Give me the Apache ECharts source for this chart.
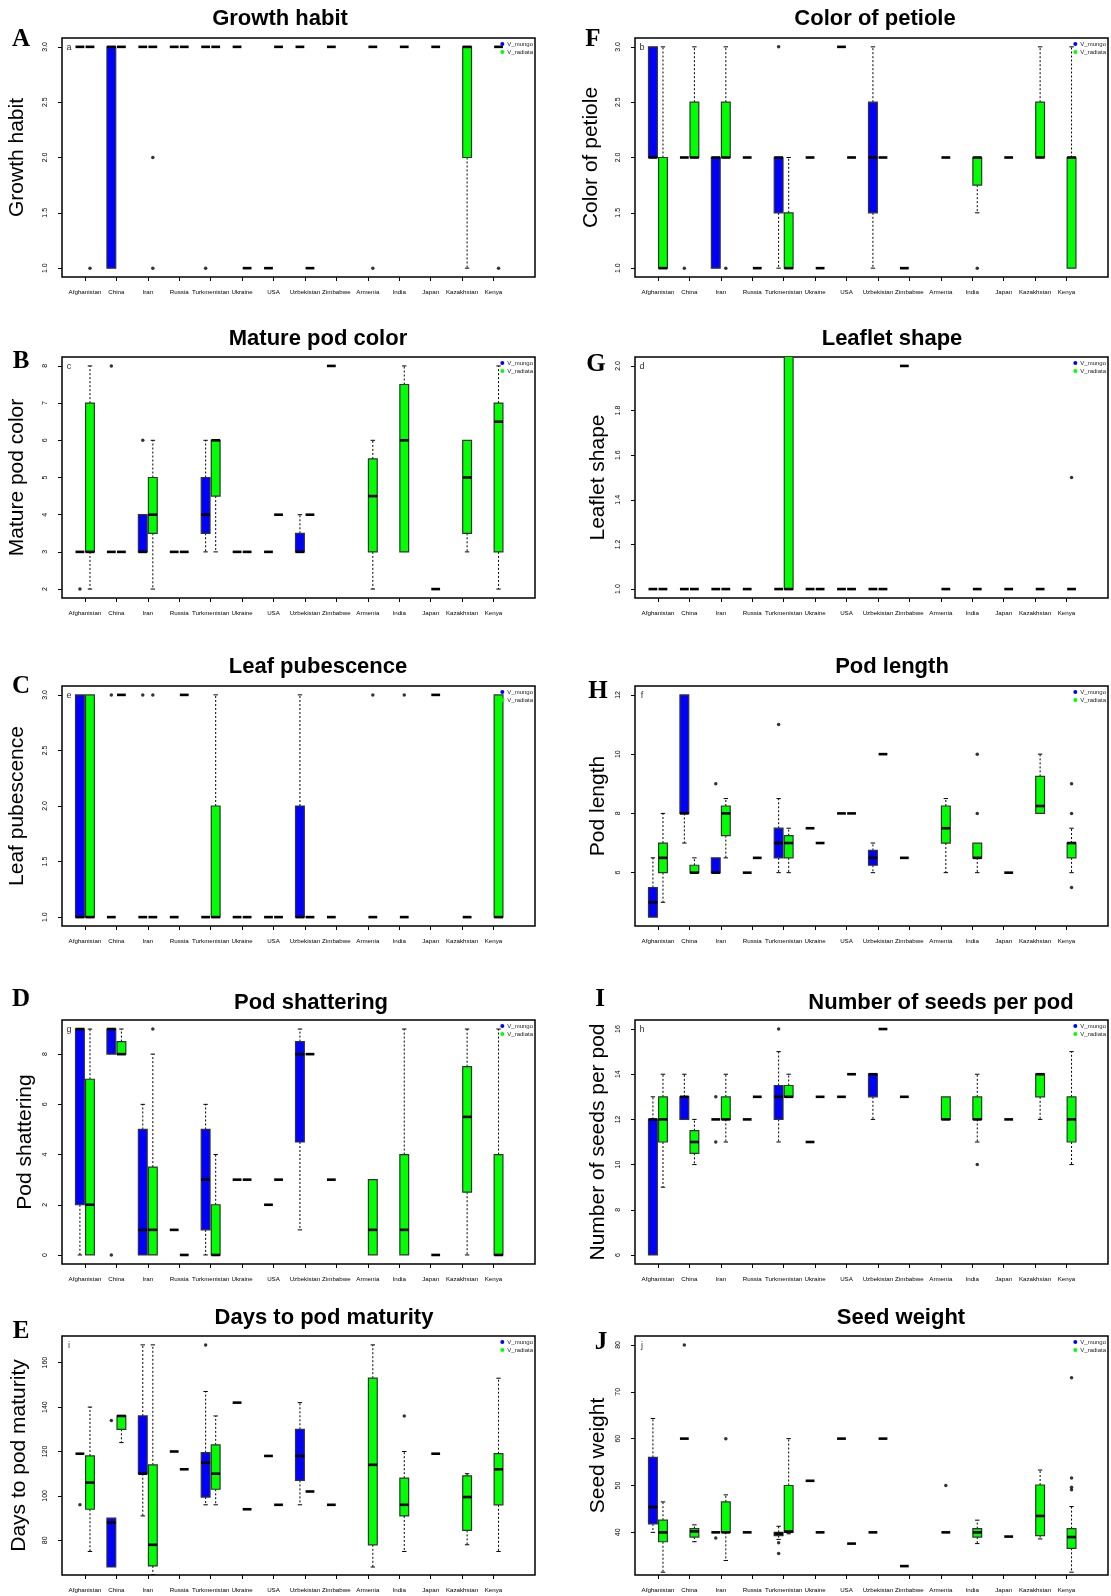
<!DOCTYPE html>
<html>
<head>
<meta charset="utf-8">
<title>Vigna trait boxplots</title>
<script src="https://cdn.jsdelivr.net/npm/echarts@6/dist/echarts.min.js"></script>
<style>
html, body { margin: 0; padding: 0; background: #fff; }
#chart { width: 1111px; height: 1596px; }
</style>
</head>
<body>
<div id="chart"></div>
<script>
// countries on every x axis
const countries = ['Afghanistan', 'China', 'Iran', 'Russia', 'Turkmenistan', 'Ukraine', 'USA',
  'Uzbekistan', 'Zimbabwe', 'Armenia', 'India', 'Japan', 'Kazakhstan', 'Kenya']
const species = ['V_mungo', 'V_radiata']
const speciesColors = ['#0000ff', '#00ff00']

// box stats: a number = all accessions had that value,
// an array = [low whisker, Q1, median, Q3, high whisker], null = no accessions
// outliers: [country index, species (0 mungo / 1 radiata), value]

// A - Growth habit
const growthMungo = [3, [1, 1, 3, 3, 3], 3, 3, 3, 3, 1, 3, 3, null, null, null, null, null]
const growthRadiata = [3, 3, 3, 3, 3, 1, 3, 1, null, 3, 3, 3, [1, 2, 3, 3, 3], 3]
const growthOutliers = [[0, 1, 1], [2, 1, 2], [2, 1, 1], [4, 0, 1], [9, 1, 1], [13, 1, 1]]
const growthTicks = [1, 1.5, 2, 2.5, 3]

// F - Color of petiole
const petioleMungo = [[2, 2, 2, 3, 3], 2, [1, 1, 2, 2, 2], 2, [1, 1.5, 2, 2, 2], 2, 3, [1, 1.5, 2, 2.5, 3], 1, null, null, null, null, null]
const petioleRadiata = [[1, 1, 1, 2, 3], [2, 2, 2, 2.5, 3], [2, 2, 2, 2.5, 3], 1, [1, 1, 1, 1.5, 2], 1, 2, 2, null, 2, [1.5, 1.75, 2, 2, 2], 2, [2, 2, 2, 2.5, 3], [1, 1, 2, 2, 3]]
const petioleOutliers = [[1, 0, 1], [2, 1, 1], [4, 0, 3], [10, 1, 1]]
const petioleTicks = [1, 1.5, 2, 2.5, 3]

// B - Mature pod color
const podColorMungo = [3, 3, [3, 3, 3, 4, 4], 3, [3, 3.5, 4, 5, 6], 3, 3, [3, 3, 3, 3.5, 4], 8, null, null, null, null, null]
const podColorRadiata = [[2, 3, 3, 7, 8], 3, [2, 3.5, 4, 5, 6], 3, [3, 4.5, 6, 6, 6], 3, 4, 4, null, [2, 3, 4.5, 5.5, 6], [3, 3, 6, 7.5, 8], 2, [3, 3.5, 5, 6, 6], [2, 3, 6.5, 7, 8]]
const podColorOutliers = [[0, 0, 2], [1, 0, 8], [2, 0, 6]]
const podColorTicks = [2, 3, 4, 5, 6, 7, 8]

// G - Leaflet shape
const leafletMungo = [1, 1, 1, 1, 1, 1, 1, 1, 2, null, null, null, null, null]
const leafletRadiata = [1, 1, 1, null, [1, 1, 1, 2.1, 2.1], 1, 1, 1, null, 1, 1, 1, 1, 1]
const leafletOutliers = [[13, 1, 1.5]]
const leafletTicks = [1, 1.2, 1.4, 1.6, 1.8, 2]

// C - Leaf pubescence
const pubescenceMungo = [[1, 1, 1, 3, 3], 1, 1, 1, 1, 1, 1, [1, 1, 1, 2, 3], 1, null, null, null, null, null]
const pubescenceRadiata = [[1, 1, 1, 3, 3], 3, 1, 3, [1, 1, 1, 2, 3], 1, 1, 1, null, 1, 1, 3, 1, [1, 1, 1, 3, 3]]
const pubescenceOutliers = [[1, 0, 3], [2, 0, 3], [2, 1, 3], [9, 1, 3], [10, 1, 3]]
const pubescenceTicks = [1, 1.5, 2, 2.5, 3]

// H - Pod length
const podLengthMungo = [[4.5, 4.5, 5, 5.5, 6.5], [7, 8, 8, 12, 12], [6, 6, 6, 6.5, 6.5], 6, [6, 6.5, 7, 7.5, 8.5], 7.5, 8, [6, 6.25, 6.5, 6.75, 7], 6.5, null, null, null, null, null]
const podLengthRadiata = [[5, 6, 6.5, 7, 8], [6, 6, 6, 6.25, 6.5], [6.5, 7.25, 8, 8.25, 8.5], 6.5, [6, 6.5, 7, 7.25, 7.5], 7, 8, 10, null, [6, 7, 7.5, 8.25, 8.5], [6, 6.5, 6.5, 7, 7], 6, [8, 8, 8.25, 9.25, 10], [6, 6.5, 7, 7, 7.5]]
const podLengthOutliers = [[2, 0, 9], [4, 0, 11], [10, 1, 10], [10, 1, 8], [13, 1, 9], [13, 1, 8], [13, 1, 5.5]]
const podLengthTicks = [6, 8, 10, 12]

// D - Pod shattering
const shatterMungo = [[0, 2, 9, 9, 9], [8, 8, 9, 9, 9], [0, 0, 1, 5, 6], 1, [0, 1, 3, 5, 6], 3, 2, [1, 4.5, 8, 8.5, 9], 3, null, null, null, null, null]
const shatterRadiata = [[0, 0, 2, 7, 9], [8, 8, 8, 8.5, 9], [0, 0, 1, 3.5, 8], 0, [0, 0, 0, 2, 4], 3, 3, 8, null, [0, 0, 1, 3, 3], [0, 0, 1, 4, 9], 0, [0, 2.5, 5.5, 7.5, 9], [0, 0, 0, 4, 9]]
const shatterOutliers = [[1, 0, 0], [2, 1, 9]]
const shatterTicks = [0, 2, 4, 6, 8]

// I - Number of seeds per pod
const seedsMungo = [[6, 6, 12, 12, 13], [12, 12, 13, 13, 14], 12, 12, [11, 12, 13, 13.5, 15], 11, 13, [12, 13, 14, 14, 14], 13, null, null, null, null, null]
const seedsRadiata = [[9, 11, 12, 13, 14], [10, 10.5, 11, 11.5, 12], [11, 12, 12, 13, 14], 13, [13, 13, 13, 13.5, 14], 13, 14, 16, null, [12, 12, 12, 13, 13], [11, 12, 12, 13, 14], 12, [12, 13, 14, 14, 14], [10, 11, 12, 13, 15]]
const seedsOutliers = [[2, 0, 13], [2, 0, 11], [4, 0, 16], [10, 1, 10]]
const seedsTicks = [6, 8, 10, 12, 14, 16]

// E - Days to pod maturity
const maturityMungo = [119, [68, 68, 88, 90, 90], [91, 110, 110, 136, 168], 120, [96, 99.5, 115, 119.5, 147], 142, 118, [96, 107, 118, 130, 142], 96, null, null, null, null, null]
const maturityRadiata = [[75, 94, 106, 118, 140], [124, 130, 136, 136, 136], [64.5, 68.5, 78, 114, 168], 112, [96, 103, 110, 123, 136], 94, 96, 102, null, [68, 78, 114, 153, 168], [75, 91, 96, 108, 120], 119, [78, 84.5, 99.5, 109, 110], [75, 96, 112, 119, 153]]
const maturityOutliers = [[0, 0, 96], [1, 0, 134], [4, 0, 168], [10, 1, 136]]
const maturityTicks = [80, 100, 120, 140, 160]

// J - Seed weight
const weightMungo = [[40, 41.8, 45.4, 56, 64.3], 60, 40, 40, [38.5, 39.3, 39.7, 40, 41.3], 51, 60, 40, 32.8, null, null, null, null, null]
const weightRadiata = [[31.5, 38, 40, 42.6, 46.5], [38, 39, 40.2, 40.8, 41.6], [34, 40, 40, 46.5, 48], null, [39.7, 40, 40.2, 50, 60], 40, 37.6, 60, null, 40, [37.6, 39, 40, 40.8, 42.6], 39.1, [38.6, 39.3, 43.5, 50.1, 53.3], [31.5, 36.6, 39, 40.8, 45.5]]
const weightOutliers = [[1, 0, 80], [2, 0, 38.8], [2, 1, 60], [4, 0, 37.8], [4, 0, 35.5], [9, 1, 50], [13, 1, 73], [13, 1, 51.6], [13, 1, 49.6], [13, 1, 49.1]]
const weightTicks = [40, 50, 60, 70, 80]

// page layout (pixels)
const colLeft = [62, 635]
const colWidth = 473
const rowTop = [38, 357, 686, 1020, 1336]
const rowHeight = [239, 241, 240, 244, 239]
const titleY = [18, 338, 666, 1002, 1317]
const OFFSET = 0.16   // box shift either side of the country tick
const BOX_W = 0.28

const panels = [
  { tag: 'a', letter: 'A', title: 'Growth habit', mungo: growthMungo, radiata: growthRadiata, outliers: growthOutliers, ticks: growthTicks, digits: 1, min: 0.92, max: 3.08, col: 0, row: 0, titleX: 280, labelX: 17, letterPos: [21, 40] },
  { tag: 'b', letter: 'F', title: 'Color of petiole', mungo: petioleMungo, radiata: petioleRadiata, outliers: petioleOutliers, ticks: petioleTicks, digits: 1, min: 0.92, max: 3.08, col: 1, row: 0, titleX: 875, labelX: 591, letterPos: [593, 40] },
  { tag: 'c', letter: 'B', title: 'Mature pod color', mungo: podColorMungo, radiata: podColorRadiata, outliers: podColorOutliers, ticks: podColorTicks, digits: 0, min: 1.76, max: 8.24, col: 0, row: 1, titleX: 318, labelX: 17, letterPos: [21, 362] },
  { tag: 'd', letter: 'G', title: 'Leaflet shape', mungo: leafletMungo, radiata: leafletRadiata, outliers: leafletOutliers, ticks: leafletTicks, digits: 1, min: 0.96, max: 2.04, col: 1, row: 1, titleX: 892, labelX: 598, letterPos: [596, 365] },
  { tag: 'e', letter: 'C', title: 'Leaf pubescence', mungo: pubescenceMungo, radiata: pubescenceRadiata, outliers: pubescenceOutliers, ticks: pubescenceTicks, digits: 1, min: 0.92, max: 3.08, col: 0, row: 2, titleX: 318, labelX: 17, letterPos: [21, 687] },
  { tag: 'f', letter: 'H', title: 'Pod length', mungo: podLengthMungo, radiata: podLengthRadiata, outliers: podLengthOutliers, ticks: podLengthTicks, digits: 0, min: 4.2, max: 12.3, col: 1, row: 2, titleX: 892, labelX: 598, letterPos: [598, 692] },
  { tag: 'g', letter: 'D', title: 'Pod shattering', mungo: shatterMungo, radiata: shatterRadiata, outliers: shatterOutliers, ticks: shatterTicks, digits: 0, min: -0.36, max: 9.36, col: 0, row: 3, titleX: 311, labelX: 25, letterPos: [21, 1000] },
  { tag: 'h', letter: 'I', title: 'Number of seeds per pod', mungo: seedsMungo, radiata: seedsRadiata, outliers: seedsOutliers, ticks: seedsTicks, digits: 0, min: 5.6, max: 16.4, col: 1, row: 3, titleX: 941, labelX: 598, letterPos: [600, 1000] },
  { tag: 'i', letter: 'E', title: 'Days to pod maturity', mungo: maturityMungo, radiata: maturityRadiata, outliers: maturityOutliers, ticks: maturityTicks, digits: 0, min: 64.4, max: 172, col: 0, row: 4, titleX: 324, labelX: 19, letterPos: [21, 1332] },
  { tag: 'j', letter: 'J', title: 'Seed weight', mungo: weightMungo, radiata: weightRadiata, outliers: weightOutliers, ticks: weightTicks, digits: 0, min: 30.9, max: 81.9, col: 1, row: 4, titleX: 901, labelX: 598, letterPos: [601, 1343] }
]

const FONT = '"Liberation Sans", Arial, Helvetica, sans-serif'
const countryPos = countries.map((c, k) => k + 1)

function boxRows(stats, shift) {
  let rows = []
  stats.forEach((s, k) => {
    if (s === null) return
    const v = Array.isArray(s) ? s : [s, s, s, s, s]
    rows.push([k + 1 + shift].concat(v))
  })
  return rows
}

function renderBox(params, api) {
  const x = api.value(0)
  const lo = api.value(1), q1 = api.value(2), med = api.value(3), q3 = api.value(4), hi = api.value(5)
  const w = api.size([BOX_W, 0])[0]
  const pLo = api.coord([x, lo]), pQ1 = api.coord([x, q1]), pMed = api.coord([x, med])
  const pQ3 = api.coord([x, q3]), pHi = api.coord([x, hi])
  const cx = pMed[0]
  const color = api.visual('color')
  let children = []
  const dashed = { stroke: '#000', lineWidth: 1, lineDash: [2, 2] }
  const solid = { stroke: '#000', lineWidth: 1 }
  if (hi > q3) {
    children.push({ type: 'line', shape: { x1: cx, y1: pQ3[1], x2: cx, y2: pHi[1] }, style: dashed })
    children.push({ type: 'line', shape: { x1: cx - w / 4, y1: pHi[1], x2: cx + w / 4, y2: pHi[1] }, style: solid })
  }
  if (lo < q1) {
    children.push({ type: 'line', shape: { x1: cx, y1: pQ1[1], x2: cx, y2: pLo[1] }, style: dashed })
    children.push({ type: 'line', shape: { x1: cx - w / 4, y1: pLo[1], x2: cx + w / 4, y2: pLo[1] }, style: solid })
  }
  if (q3 > q1) {
    children.push({
      type: 'rect',
      shape: { x: cx - w / 2, y: pQ3[1], width: w, height: pQ1[1] - pQ3[1] },
      style: { fill: color, stroke: '#333', lineWidth: 1.2 }
    })
  }
  children.push({ type: 'line', shape: { x1: cx - w / 2, y1: pMed[1], x2: cx + w / 2, y2: pMed[1] }, style: { stroke: '#000', lineWidth: 2.6 } })
  return { type: 'group', children: children }
}

const option = {
  animation: false,
  backgroundColor: '#fff',
  title: [],
  grid: [],
  xAxis: [],
  yAxis: [],
  legend: [],
  series: [],
  graphic: []
}

panels.forEach((p, i) => {
  const left = colLeft[p.col]
  const top = rowTop[p.row]
  const height = rowHeight[p.row]

  option.title.push({
    text: p.title, left: p.titleX, top: titleY[p.row] - 10, textAlign: 'center', padding: 0,
    textStyle: { fontSize: 22, fontWeight: 'bold', color: '#000', fontFamily: FONT }
  })
  option.grid.push({ left: left, top: top, width: colWidth, height: height, show: true, borderColor: '#000', borderWidth: 1.5 })
  option.xAxis.push({
    gridIndex: i, type: 'value', min: 0.27, max: 15.32,
    axisLine: { show: false, onZero: false },
    splitLine: { show: false },
    axisTick: { show: true, customValues: countryPos, length: 4, lineStyle: { color: '#000', width: 1 } },
    axisLabel: {
      show: true, customValues: countryPos, margin: 12, fontSize: 6.2, color: '#000', fontFamily: FONT,
      formatter: v => countries[Math.round(v) - 1]
    }
  })
  option.yAxis.push({
    gridIndex: i, type: 'value', min: p.min, max: p.max,
    axisLine: { show: false, onZero: false },
    splitLine: { show: false },
    axisTick: { show: true, customValues: p.ticks, length: 4, lineStyle: { color: '#000', width: 1 } },
    axisLabel: {
      show: true, customValues: p.ticks, rotate: 90, margin: 13, fontSize: 7, color: '#000', fontFamily: FONT,
      formatter: v => v.toFixed(p.digits)
    }
  })
  option.legend.push({
    data: species.map((s, k) => ({ name: s, itemStyle: { color: speciesColors[k] } })),
    orient: 'vertical', right: 1111 - (left + colWidth) + 2, top: top + 3, padding: 0,
    itemWidth: 4, itemHeight: 4, itemGap: 2, icon: 'circle', selectedMode: false,
    textStyle: { fontSize: 6, color: '#222', fontFamily: FONT, padding: [0, 0, 0, -2] }
  })

  ;[p.mungo, p.radiata].forEach((stats, s) => {
    option.series.push({
      type: 'custom', name: species[s], xAxisIndex: i, yAxisIndex: i, clip: true,
      itemStyle: { color: speciesColors[s] },
      encode: { x: 0, y: [1, 2, 3, 4, 5] },
      data: boxRows(stats, s === 0 ? -OFFSET : OFFSET),
      renderItem: renderBox,
      z: 2
    })
  })
  option.series.push({
    type: 'scatter', name: 'outliers', xAxisIndex: i, yAxisIndex: i,
    symbol: 'circle', symbolSize: 3.5, itemStyle: { color: '#000' },
    data: p.outliers.map(o => [o[0] + 1 + (o[1] === 0 ? -OFFSET : OFFSET), o[2]]),
    z: 3
  })

  // panel letter, y axis title and the small tag inside the box
  option.graphic.push({
    type: 'text', x: p.letterPos[0], y: p.letterPos[1],
    style: { text: p.letter, font: 'bold 25px "Liberation Serif", "Times New Roman", serif', fill: '#000', align: 'center', verticalAlign: 'middle' }
  })
  option.graphic.push({
    type: 'text', x: p.labelX, y: top + height / 2, rotation: Math.PI / 2,
    style: { text: p.title, font: '21px ' + FONT, fill: '#000', align: 'center', verticalAlign: 'middle' }
  })
  option.graphic.push({
    type: 'text', x: left + 7, y: top + 10,
    style: { text: p.tag, font: '9px ' + FONT, fill: '#333', align: 'center', verticalAlign: 'middle' }
  })
})

const chart = echarts.init(document.getElementById('chart'), null, { renderer: 'canvas' })
chart.setOption(option)
</script>
</body>
</html>
